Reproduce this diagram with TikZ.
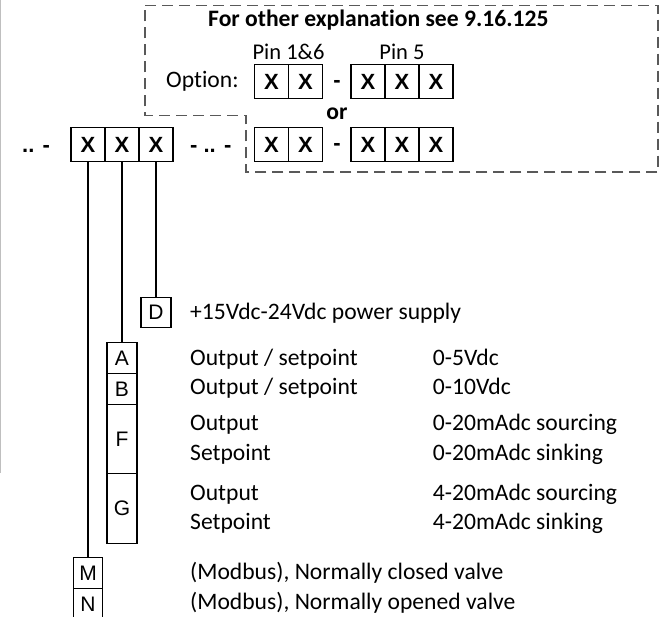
\documentclass[tikz,border=0pt]{standalone}
\usepackage{fontspec}
\setmainfont{Carlito}[RawFeature={-liga;-clig;-dlig}]
\newfontfamily\boxfont{Liberation Sans}
\usetikzlibrary{positioning}
\tikzset{
  xbox/.style={draw, line width=1.5pt, minimum width=34pt, minimum height=34pt, inner sep=0pt,
    font=\boxfont\fontsize{22}{22}\selectfont\bfseries},
  codebox/.style={draw, line width=1.4pt, minimum width=30pt, inner sep=0pt, outer sep=0pt,
    font=\boxfont\fontsize{21}{21}\selectfont},
  desc/.style={anchor=base west, inner sep=0pt, font=\fontsize{23.6}{23.6}\selectfont},
  sep/.style={anchor=base, inner sep=0pt, font=\fontsize{23.6}{23.6}\selectfont\bfseries},
  wire/.style={line width=1.5pt}
}

\begin{document}
\begin{tikzpicture}[x=1pt,y=-1pt]
  \useasboundingbox (0,0) rectangle (664,617);
  \draw[black!25, line width=1pt] (0.5,0) -- (0.5,473);

  % option frame
  \draw[black!65, line width=1.2pt, dash pattern=on 11pt off 6pt]
    (145,5.7) -- (658,5.7) -- (658,172) -- (246,172) -- (246,115.7) -- (145,115.7) -- cycle;
  \node[desc, font=\fontsize{23.6}{23.6}\selectfont\bfseries] (title) at (208,27) {For other explanation see 9.16.125};
  \node[desc] (option) at (166,88) {Option:};
  \node[anchor=base, inner sep=0pt, font=\fontsize{22.5}{22.5}\selectfont] (pinA) at (288.5,60) {Pin 1\&6};
  \node[anchor=base, inner sep=0pt, font=\fontsize{22.5}{22.5}\selectfont] (pinB) at (402,60) {Pin 5};
  \node[sep] (or) at (337,120) {or};

  % code boxes
  \foreach \n/\x in {1/88,2/122,3/156}
    \node[xbox] (x\n) at (\x,144.5) {X};
  \foreach \n/\x in {1/271.5,2/305.5}{
    \node[xbox] (pa\n) at (\x,81.7) {X};
    \node[xbox] (qa\n) at (\x,144.5) {X};
  }
  \foreach \n/\x in {1/368,2/402,3/436}{
    \node[xbox] (pb\n) at (\x,81.7) {X};
    \node[xbox] (qb\n) at (\x,144.5) {X};
  }
  \node[sep, font=\boxfont\fontsize{22}{22}\selectfont\bfseries] (dashP) at (337,88) {-};
  \node[sep, font=\boxfont\fontsize{22}{22}\selectfont\bfseries] (dashQ) at (337,151) {-};
  \node[desc, font=\boxfont\fontsize{22}{22}\selectfont\bfseries] (lead) at (22,153) {.. -};
  \node[desc, font=\boxfont\fontsize{22}{22}\selectfont\bfseries] (mid) at (190,153) {- .. -};

  % letter boxes
  \node[codebox, minimum height=30pt] (D) at (156,312.5) {D};
  \node[codebox, minimum height=31pt] (A) at (122,357.8) {A};
  \node[codebox, minimum height=31pt, below=0pt of A] (B) {B};
  \node[codebox, minimum height=69pt, below=0pt of B] (F) {F};
  \node[codebox, minimum height=70pt, below=0pt of F] (G) {G};
  \node[codebox, minimum width=28.5pt, minimum height=31pt] (M) at (88,572.8) {M};
  \node[codebox, minimum width=28.5pt, minimum height=31pt, below=0pt of M] (N) {N};

  \draw[wire] (x3.south) -- (D.north);
  \draw[wire] (x2.south) -- (A.north);
  \draw[wire] (x1.south) -- (M.north);

  % descriptions
  \node[desc] (dtxt) at (190,320) {+15Vdc-24Vdc power supply};
  \node[desc] (atxt) at (190,366) {Output / setpoint};
  \node[desc] (aval) at (432.7,366) {0-5Vdc};
  \node[desc] (btxt) at (190,395) {Output / setpoint};
  \node[desc] (bval) at (432.7,395) {0-10Vdc};
  \node[desc] (ftxt) at (190,430) {Output};
  \node[desc] (fval) at (432.7,430) {0-20mAdc sourcing};
  \node[desc] (ftxtb) at (190,460) {Setpoint};
  \node[desc] (fvalb) at (432.7,460) {0-20mAdc sinking};
  \node[desc] (gtxt) at (190,500) {Output};
  \node[desc] (gval) at (432.7,500) {4-20mAdc sourcing};
  \node[desc] (gtxtb) at (190,529) {Setpoint};
  \node[desc] (gvalb) at (432.7,529) {4-20mAdc sinking};
  \node[desc] (mtxt) at (190,579) {(Modbus), Normally closed valve};
  \node[desc] (ntxt) at (190,609) {(Modbus), Normally opened valve};
\end{tikzpicture}
\end{document}
